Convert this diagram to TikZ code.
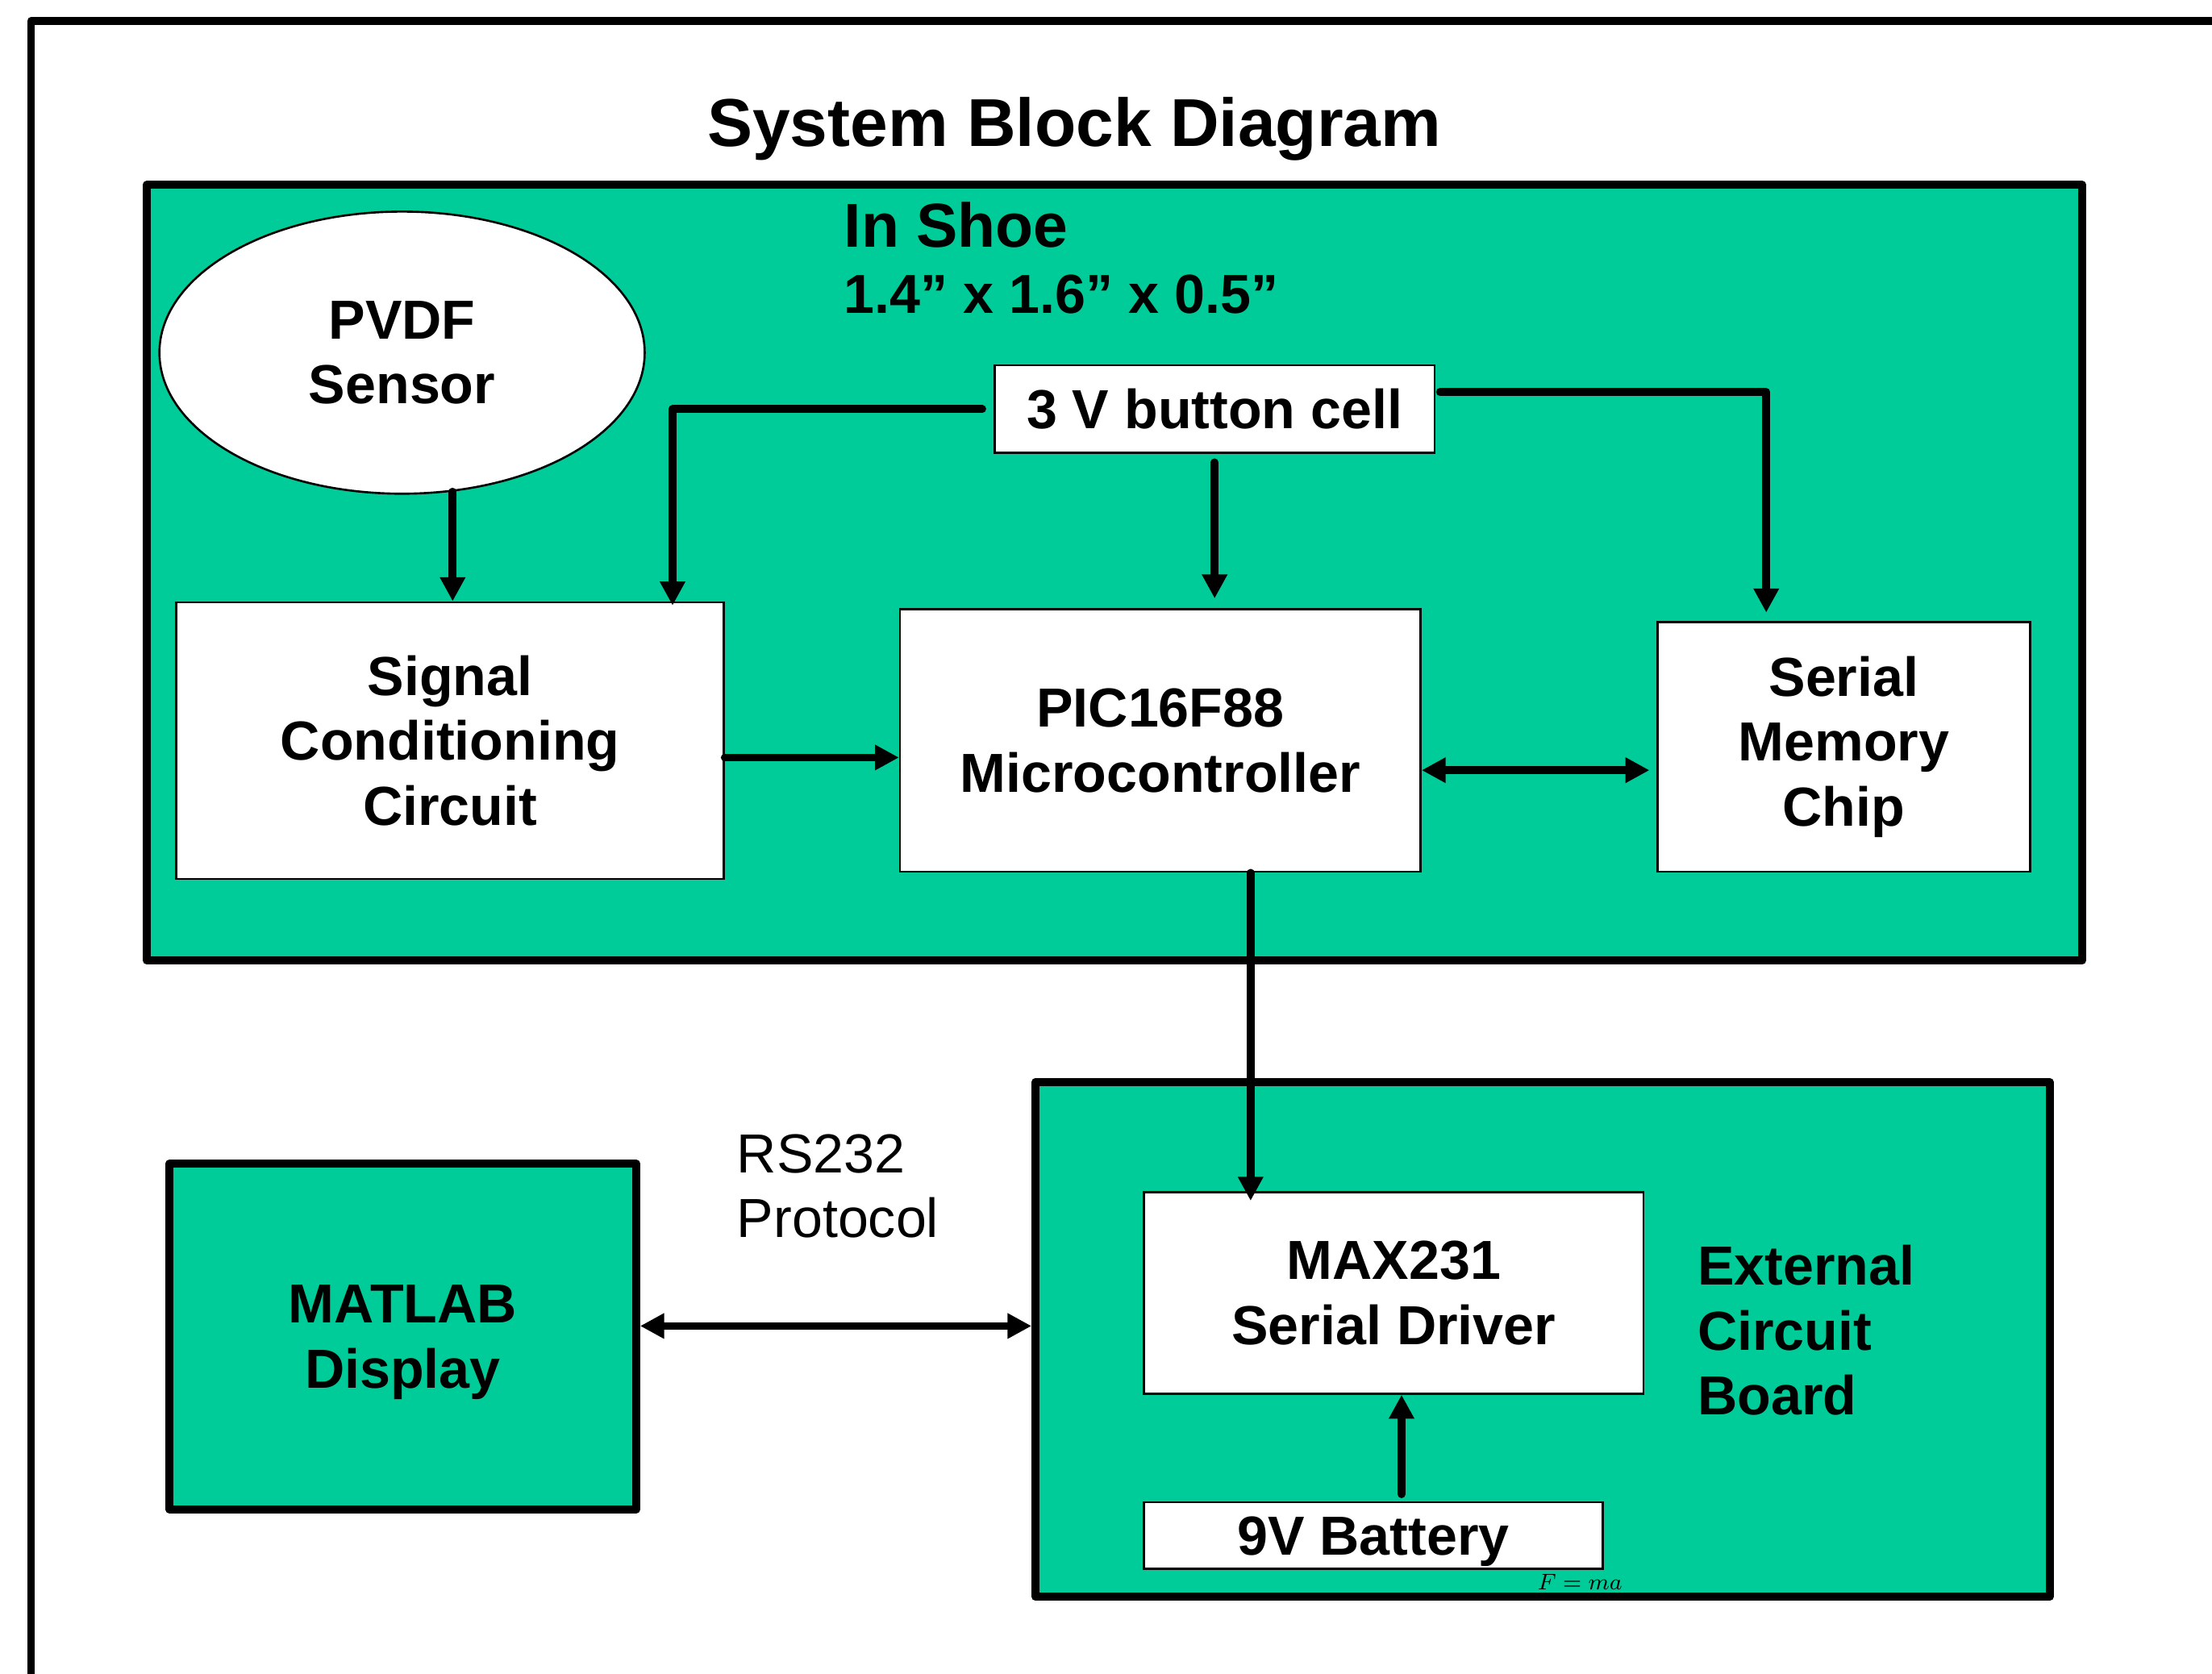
\documentclass[tikz,border=0pt]{standalone}
\usepackage{fontspec}
\setmainfont{Liberation Sans}
\usetikzlibrary{arrows.meta,shapes.geometric}
\definecolor{shoegreen}{RGB}{0,204,153}
\newcommand{\blkfont}{\bfseries\fontsize{19.5}{23}\selectfont}

\begin{document}
\begin{tikzpicture}[x=0.5pt,y=-0.5pt]
    \tikzset{>={Triangle[length=8.5pt,width=8.5pt]},
      blk/.style={draw,line width=0.75pt,fill=white,inner sep=0pt,align=center,font=\blkfont},
      board/.style={draw,line width=2.8pt,line join=round,fill=shoegreen,inner sep=0pt,align=center,font=\blkfont},
      lbl/.style={inner sep=0pt,align=left,anchor=west,font=\blkfont},
      wire/.style={line width=2.8pt,line cap=round,line join=round,->}}
\useasboundingbox (0,0) rectangle (1568,1186.7);
\draw[line width=2.8pt,line join=round] (1590,15) -| (22,1210);
\node[anchor=base,inner sep=0pt,font=\bfseries\fontsize{24}{28}\selectfont] (title) at (761.5,104) {System Block Diagram};
% boards
\node[board,minimum width=686pt,minimum height=275pt] (shoe) at (790,406) {};
\node[board,minimum width=359.5pt,minimum height=182.5pt] (ext) at (1093.5,949.5) {};
\node[board,text depth=0pt,minimum width=165.5pt,minimum height=122.5pt] (matlab) at (285.5,947.5) {MATLAB\\Display};
\node[lbl,anchor=base west,font=\bfseries\fontsize{22}{26}\selectfont] (shoename) at (598,175) {In Shoe};
\node[lbl,anchor=base west] (shoesize) at (598,222) {1.4” x 1.6” x 0.5”};
\node[lbl] (extname) at (1203,943) {External\\Circuit\\Board};
\node[lbl,font=\fontsize{19.5}{23}\selectfont] (rs) at (522,841) {RS232\\Protocol};
% blocks
\node[blk,ellipse,minimum width=172pt,minimum height=100pt] (sensor) at (285,250) {PVDF\\Sensor};
\node[blk,minimum width=156pt,minimum height=31pt] (cell) at (861,290) {3 V button cell};
\node[blk,minimum width=194pt,minimum height=98pt] (sig) at (319,525) {Signal\\Conditioning\\Circuit};
\node[blk,minimum width=184.5pt,minimum height=93pt] (pic) at (822.5,525) {PIC16F88\\Microcontroller};
\node[blk,minimum width=132pt,minimum height=88.5pt] (mem) at (1307,529.5) {Serial\\Memory\\Chip};
\node[blk,minimum width=177pt,minimum height=71.5pt] (max) at (988,916.5) {MAX231\\Serial Driver};
\node[blk,text depth=0pt,minimum width=162.5pt,minimum height=23.5pt] (batt) at (973.5,1088.5) {9V Battery};
\node[anchor=base,inner sep=0pt,font=\fontsize{8.3}{10}\selectfont] (fma) at (1120,1127) {$F=ma$};
% connections
\draw[wire] (sensor.-70) -- (sensor.-70 |- sig.north);
\draw[wire] ([xshift=-4pt]cell.west) -| ([xshift=-18.5pt,yshift=-1.5pt]sig.north east);
\draw[wire] ([yshift=-3pt]cell.south) -- ([yshift=3.5pt]cell.south |- pic.north);
\draw[wire] ([xshift=1.5pt,yshift=6pt]cell.east) -| ([xshift=-27.5pt,yshift=3pt]mem.north);
\draw[wire] ([yshift=-6pt]sig.east) -- ([yshift=-6pt]sig.east -| pic.west);
\draw[wire,<->] ([yshift=-10.5pt]pic.east) -- ([yshift=-10.5pt,xshift=-2.5pt]pic.east -| mem.west);
\draw[wire] ([xshift=32pt]pic.south) -- ([xshift=32pt,yshift=-3.5pt]pic.south |- max.north);
\draw[wire] ([xshift=10pt,yshift=2.5pt]batt.north) -- ([xshift=10pt]batt.north |- max.south);
\draw[wire,<->] ([yshift=3.75pt]matlab.east) -- ([yshift=3.75pt]matlab.east -| ext.west);
\end{tikzpicture}
\end{document}
